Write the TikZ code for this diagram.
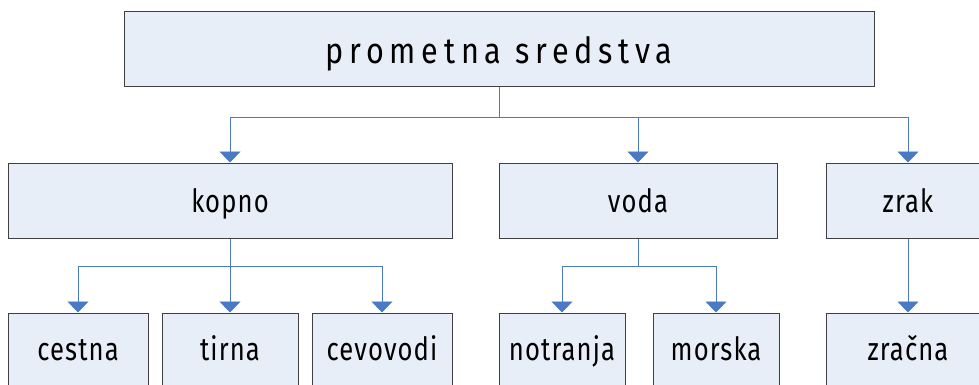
\documentclass[tikz,border=0pt]{standalone}
\usepackage{fontspec}
\usetikzlibrary{arrows.meta}
\newfontfamily\topfont[FakeStretch=0.85,LetterSpace=16]{Fira Sans}
\newfontfamily\lblfont[FakeStretch=0.8,LetterSpace=3.5]{Fira Sans}
\definecolor{boxfill}{HTML}{E8EEF7}
\definecolor{boxline}{HTML}{404040}
\definecolor{connblue}{HTML}{4A7AC4}
\tikzset{
  box/.style={draw=boxline, fill=boxfill, line width=1pt, rectangle, inner sep=0pt},
  lbl/.style={inner sep=0pt, anchor=base, font=\lblfont\fontsize{32}{36}\selectfont},
  toplbl/.style={inner sep=0pt, anchor=base, font=\topfont\fontsize{36}{40}\selectfont},
  conn/.style={draw=connblue, line width=0.9pt, -{Triangle[width=21pt,length=11pt]}},
  plain/.style={draw=connblue, line width=0.9pt}
}
\begin{document}
\begin{tikzpicture}[x=1pt,y=-1pt]
\clip (0,0) rectangle (979,385);
\useasboundingbox (0,0) rectangle (979,385);
% top
\node[box, minimum width=750pt, minimum height=75pt] (top) at (499,49.5) {};
\node[toplbl] (topT) at (499,64) {prometna\hspace{14pt}sredstva};
% second row
\node[box, minimum width=444pt, minimum height=75pt] (kopno) at (230,200.5) {};
\node[lbl] (kopnoT) at (230,212) {kopno};
\node[box, minimum width=278pt, minimum height=75pt] (voda) at (638,200.5) {};
\node[lbl] (vodaT) at (638,212) {voda};
\node[box, minimum width=164pt, minimum height=75pt] (zrak) at (908,200.5) {};
\node[lbl] (zrakT) at (908,212) {zrak};
% third row
\node[box, minimum width=140pt, minimum height=90pt] (cestna) at (78,358) {};
\node[lbl] (cestnaT) at (78,360) {cestna};
\node[box, minimum width=136pt, minimum height=90pt] (tirna) at (230,358) {};
\node[lbl] (tirnaT) at (230,360) {tirna};
\node[box, minimum width=140pt, minimum height=90pt] (cevovodi) at (382,358) {};
\node[lbl] (cevovodiT) at (382,360) {cevovodi};
\node[box, minimum width=126pt, minimum height=90pt] (notranja) at (562,358) {};
\node[lbl] (notranjaT) at (562,360) {notranja};
\node[box, minimum width=126pt, minimum height=90pt] (morska) at (716,358) {};
\node[lbl] (morskaT) at (716,360) {morska};
\node[box, minimum width=164pt, minimum height=90pt] (zracna) at (908,358) {};
\node[lbl] (zracnaT) at (908,360) {zračna};
% connectors
\coordinate (j1) at (499,117);
\coordinate (j2) at (230,266);
\coordinate (j3) at (638,266);
\draw[plain] (top.south) -- (j1);
\draw[conn] (j1) -| (kopno.north);
\draw[conn] (j1) -| (voda.north);
\draw[conn] (j1) -| (zrak.north);
\draw[plain] (kopno.south) -- (j2);
\draw[conn] (j2) -| (cestna.north);
\draw[conn] (j2) -- (tirna.north);
\draw[conn] (j2) -| (cevovodi.north);
\draw[plain] (voda.south) -- (j3);
\draw[conn] (j3) -| (notranja.north);
\draw[conn] (j3) -| (morska.north);
\draw[conn] (zrak.south) -- (zracna.north);
\end{tikzpicture}
\end{document}
